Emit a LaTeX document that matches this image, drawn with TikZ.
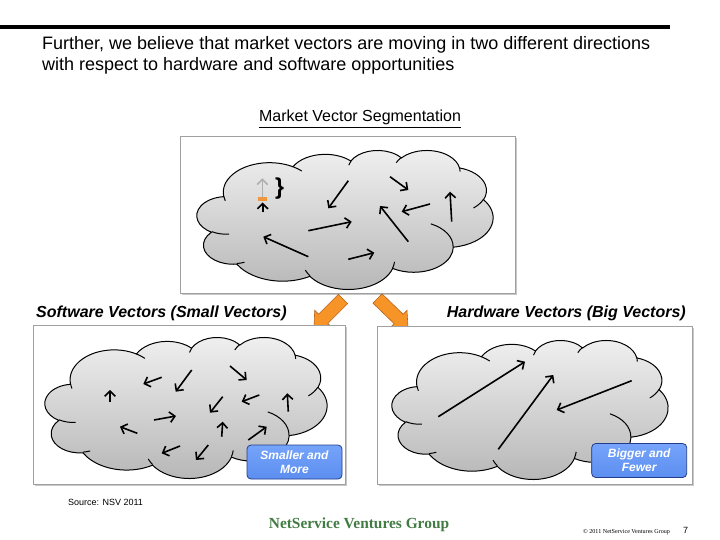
\documentclass[tikz,border=0pt]{standalone}
\usepackage{fontspec}
\setmainfont{Liberation Sans}
\newfontfamily\nsvserif{Liberation Serif}
\usetikzlibrary{calc,arrows.meta,shadows}

\definecolor{cloudtop}{RGB}{240,240,240}
\definecolor{cloudbot}{RGB}{182,182,182}
\definecolor{panelline}{RGB}{160,160,160}
\definecolor{orfill}{RGB}{247,148,40}
\definecolor{oredge}{RGB}{185,100,25}
\definecolor{bluetop}{RGB}{118,164,250}
\definecolor{bluebot}{RGB}{92,142,240}
\definecolor{blueedge}{RGB}{35,60,140}
\definecolor{nsvgreen}{RGB}{66,124,68}
\definecolor{vecgray}{RGB}{175,175,175}
\definecolor{markorange}{RGB}{240,150,60}

% OOXML arcTo (visual angles) -> TikZ parametric angles
\newcommand\mkarc[5]{%
  \pgfmathsetmacro\mkarcA{atan2((#2)*sin(#4),(#3)*cos(#4))}%
  \pgfmathsetmacro\mkarcB{atan2((#2)*sin((#4)+(#5)),(#3)*cos((#4)+(#5)))}%
  \pgfmathsetmacro\mkarcB{(\mkarcA)+mod((\mkarcB)-(\mkarcA)+720,360)}%
  \expandafter\xdef\csname arcS#1\endcsname{\mkarcA}%
  \expandafter\xdef\csname arcE#1\endcsname{\mkarcB}%
}
\newcommand\aS[1]{\csname arcS#1\endcsname}
\newcommand\aE[1]{\csname arcE#1\endcsname}

\mkarc{1}{67.53}{91.90}{-190.4875}{123.7805}
\mkarc{2}{53.33}{72.67}{-144.1024}{89.9452}
\mkarc{3}{43.65}{59.45}{-145.8079}{99.7230}
\mkarc{4}{48.57}{65.95}{-130.9861}{117.2417}
\mkarc{5}{53.33}{72.73}{-78.7089}{109.0269}
\mkarc{6}{67.75}{92.20}{-46.2673}{130.2690}
\mkarc{7}{57.85}{78.67}{0.6250}{114.0333}
\mkarc{8}{67.52}{92.15}{22.4516}{115.1726}
\mkarc{9}{77.20}{105.43}{66.2426}{75.7110}
\mkarc{10}{43.60}{59.18}{-274.9421}{146.7356}
\mkarc{11}{43.45}{59.45}{-246.8285}{152.5189}
\mkarc{a}{43.45}{59.45}{86.7420}{26.4295}
\mkarc{b}{43.60}{59.18}{73.6105}{11.4475}
\mkarc{c}{67.52}{92.15}{137.6242}{14.0811}
\mkarc{d}{67.52}{92.15}{6.4533}{15.9984}
\mkarc{e}{57.85}{78.67}{-70.2924}{70.9174}
\mkarc{f}{53.33}{72.73}{30.3180}{27.7515}
\mkarc{g}{48.57}{65.95}{-13.7443}{14.8589}
\mkarc{h}{48.57}{65.95}{-149.1815}{18.1954}
\mkarc{i}{43.65}{59.45}{-163.4943}{17.6864}
\mkarc{j}{67.53}{91.90}{-66.7070}{12.3194}
\mkarc{k}{67.53}{91.90}{157.6544}{11.8582}

\newcommand\drawcloud[4]{%
  \pgfmathsetmacro\cldx{#3/432}%
  \pgfmathsetmacro\cldy{#4/432}%
  \begin{scope}[shift={(#1,#2)}, x=\cldx pt, y=-\cldy pt]
    \shadedraw[cloudfill] (39.00,143.70)
      arc[start angle=\aS{1}, end angle=\aE{1}, x radius=67.53, y radius=91.90]
      arc[start angle=\aS{2}, end angle=\aE{2}, x radius=53.33, y radius=72.67]
      arc[start angle=\aS{3}, end angle=\aE{3}, x radius=43.65, y radius=59.45]
      arc[start angle=\aS{4}, end angle=\aE{4}, x radius=48.57, y radius=65.95]
      arc[start angle=\aS{5}, end angle=\aE{5}, x radius=53.33, y radius=72.73]
      arc[start angle=\aS{6}, end angle=\aE{6}, x radius=67.75, y radius=92.20]
      arc[start angle=\aS{7}, end angle=\aE{7}, x radius=57.85, y radius=78.67]
      arc[start angle=\aS{8}, end angle=\aE{8}, x radius=67.52, y radius=92.15]
      arc[start angle=\aS{9}, end angle=\aE{9}, x radius=77.20, y radius=105.43]
      arc[start angle=\aS{10}, end angle=\aE{10}, x radius=43.60, y radius=59.18]
      arc[start angle=\aS{11}, end angle=\aE{11}, x radius=43.45, y radius=59.45]
      -- cycle;
    \draw[cloudedge]
      (46.93,261.77) arc[start angle=\aS{a}, end angle=\aE{a}, x radius=43.45, y radius=59.45]
      (69.28,348.99) arc[start angle=\aS{b}, end angle=\aE{b}, x radius=43.60, y radius=59.18]
      (164.78,390.90) arc[start angle=\aS{c}, end angle=\aE{c}, x radius=67.52, y radius=92.15]
      (288.27,347.51) arc[start angle=\aS{d}, end angle=\aE{d}, x radius=67.52, y radius=92.15]
      (341.29,229.54) arc[start angle=\aS{e}, end angle=\aE{e}, x radius=57.85, y radius=78.67]
      (417.98,153.54) arc[start angle=\aS{f}, end angle=\aE{f}, x radius=53.33, y radius=72.73]
      (383.24,54.26) arc[start angle=\aS{g}, end angle=\aE{g}, x radius=48.57, y radius=65.95]
      (290.78,39.52) arc[start angle=\aS{h}, end angle=\aE{h}, x radius=48.57, y radius=65.95]
      (221.41,47.20) arc[start angle=\aS{i}, end angle=\aE{i}, x radius=43.65, y radius=59.45]
      (140.00,51.92) arc[start angle=\aS{j}, end angle=\aE{j}, x radius=67.53, y radius=91.90]
      (41.27,157.89) arc[start angle=\aS{k}, end angle=\aE{k}, x radius=67.53, y radius=91.90];
  \end{scope}}

\newcommand\blockarrow[3]{%
  \coordinate (#3h) at ($(#2)!13pt!(#1)$);
  \filldraw[orarrow] ($(#1)!6.5pt!90:(#2)$) -- ($(#3h)!6.5pt!-90:(#1)$)
    -- ($(#3h)!12pt!-90:(#1)$) -- (#2) -- ($(#3h)!12pt!90:(#1)$)
    -- ($(#3h)!6.5pt!90:(#1)$) -- ($(#1)!6.5pt!-90:(#2)$) -- cycle;}

\tikzset{
  cloudfill/.style={top color=cloudtop, bottom color=cloudbot, draw=black, line width=1pt},
  cloudedge/.style={draw=black, line width=1pt},
  panel/.style={draw=panelline, fill=white, line width=0.7pt, inner sep=0pt,
    drop shadow={shadow xshift=2pt, shadow yshift=-2pt, fill=black!70, opacity=0.3}},
  vec/.style={line width=1.6pt, -{Straight Barb[length=5.2pt,width=10.5pt]}},
  orarrow/.style={fill=orfill, draw=oredge, line width=0.6pt},
  bluebox/.style={draw=blueedge, top color=bluetop, bottom color=bluebot, rounded corners=4pt,
    line width=0.8pt, text=white, font=\bfseries\itshape\fontsize{12}{14}\selectfont,
    align=center, minimum width=95pt, minimum height=34pt, inner sep=0pt},
  head/.style={inner sep=0pt, font=\fontsize{18}{21}\selectfont},
  sublabel/.style={inner sep=0pt, font=\bfseries\itshape\fontsize{16}{19}\selectfont},
}

\begin{document}
\begin{tikzpicture}[x=1pt, y=-1pt]
\useasboundingbox (0,0) rectangle (720,540);
\fill[white] (0,0) rectangle (720,540);

% header
\coordinate (ruleL) at (0,27);
\coordinate (ruleR) at (670,27);
\draw[line width=4pt] (ruleL) -- (ruleR);
\node[head, anchor=base west] (t1) at (42,50) {Further, we believe that market vectors are moving in two different directions};
\node[head, anchor=base west] (t2) at (42,71) {with respect to hardware and software opportunities};
\node[inner sep=0pt, anchor=base, font=\fontsize{16}{19}\selectfont] (seg) at (360,122) {\underline{Market Vector Segmentation}};

% orange block arrows
\coordinate (la) at (343,299);
\coordinate (lb) at (314,328);
\coordinate (ra) at (377.5,298.5);
\coordinate (rb) at (408,328);
\blockarrow{la}{lb}{lar}
\blockarrow{ra}{rb}{rar}

% panels
\node[panel, minimum width=335pt, minimum height=157pt] (topbox) at (347.5,214.5) {};
\node[panel, minimum width=312pt, minimum height=159pt] (swbox) at (189,404.5) {};
\node[panel, minimum width=315pt, minimum height=158pt] (hwbox) at (534.5,405) {};

% clouds
\drawcloud{197}{150}{296}{139}
\drawcloud{45}{337}{282}{141}
\drawcloud{392}{340}{276}{139}

% top cloud vectors
\fill[markorange] (258,197.2) rectangle (267,201);
\draw[vec, draw=vecgray] (262.4,197.5) -- (262.4,178.3);
\draw[vec] (262.7,212.5) -- (262.7,202.5);
\node[inner sep=0pt, font=\bfseries\fontsize{23}{23}\selectfont] (brace) at (279.5,189) {\}};
\draw[vec] (308.3,256.7) -- (263.3,236.7);
\draw[vec] (348.3,180.7) -- (328.3,208.3);
\draw[vec] (390,176.7) -- (408.3,190);
\draw[vec] (451.7,221.7) -- (450,191.7);
\draw[vec] (430,204) -- (401.7,211.7);
\draw[vec] (408.3,241.7) -- (380,206);
\draw[vec] (308.3,230.7) -- (351.7,221.7);
\draw[vec] (348.3,259.3) -- (374.3,252.7);

% software cloud vectors
\draw[vec] (161.7,377.3) -- (143.3,384);
\draw[vec] (191.7,370) -- (175.7,391.7);
\draw[vec] (230,366) -- (246.7,380);
\draw[vec] (110,401.7) -- (110,390);
\draw[vec] (259.3,395) -- (241.7,401.7);
\draw[vec] (222.7,396.7) -- (210,412.7);
\draw[vec] (288.3,411.7) -- (287.3,393.3);
\draw[vec] (154,420) -- (176,416);
\draw[vec] (137.3,433.3) -- (120,426.7);
\draw[vec] (221.7,436.7) -- (222.7,421.7);
\draw[vec] (248.3,440) -- (266.7,426.7);
\draw[vec] (180,446) -- (161.7,453.3);
\draw[vec] (208.3,445) -- (196,460);

% hardware cloud vectors
\draw[vec] (438.3,416.7) -- (525,361.7);
\draw[vec] (498.3,449.3) -- (553.3,375);
\draw[vec] (631.7,380.7) -- (556.7,410);

% labels
\node[sublabel, anchor=base west] (swlabel) at (36,317) {Software Vectors (Small Vectors)};
\node[sublabel, anchor=base east] (hwlabel) at (686,317) {Hardware Vectors (Big Vectors)};
\node[bluebox] (smaller) at (294.5,462) {Smaller and\\More};
\node[bluebox] (bigger) at (639.2,460.5) {Bigger and\\Fewer};

% footer
\node[inner sep=0pt, anchor=base west, font=\fontsize{9}{11}\selectfont] (src) at (68,505) {Source: NSV 2011};
\node[inner sep=0pt, anchor=base, text=nsvgreen, font=\nsvserif\bfseries\fontsize{15.4}{18}\selectfont] (nsv) at (359,528) {NetService Ventures Group};
\node[inner sep=0pt, anchor=base west, font=\nsvserif\fontsize{6.1}{7}\selectfont] (copy) at (583,533) {\textcopyright{} 2011 NetService Ventures Group};
\node[inner sep=0pt, anchor=base, font=\fontsize{9}{10}\selectfont] (pageno) at (685.5,533) {7};
\end{tikzpicture}
\end{document}
